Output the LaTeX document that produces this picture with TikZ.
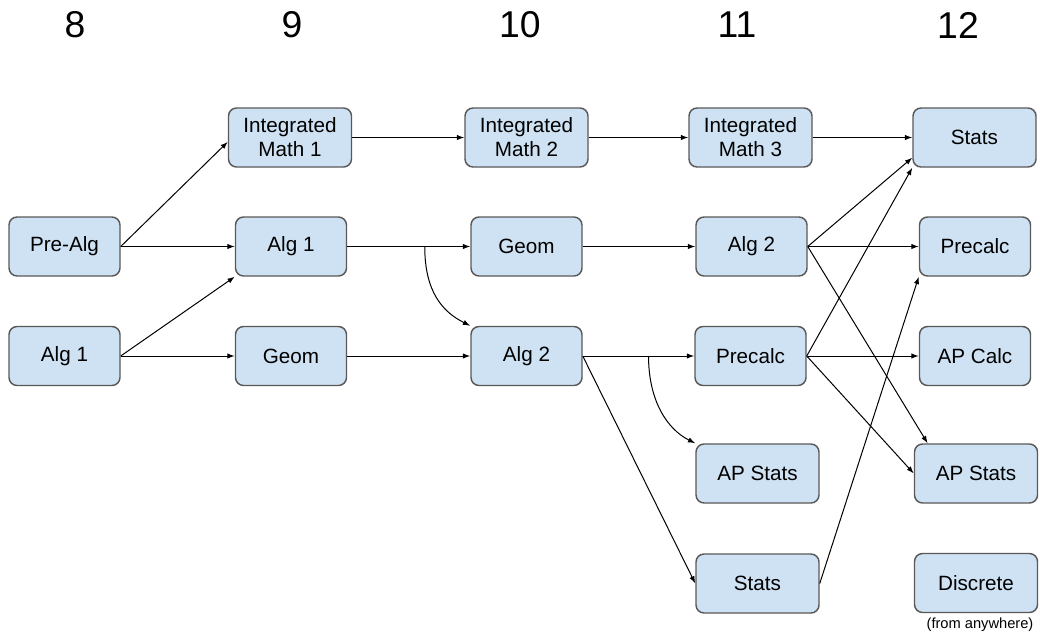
\documentclass[tikz,border=0pt]{standalone}
\usepackage{fontspec}
\setmainfont{Liberation Sans}
\usetikzlibrary{arrows.meta,calc}

\tikzset{every picture/.style={line width=0.75pt}}
\tikzset{
  course/.style={draw={rgb,255:red,89;green,89;blue,89}, fill={rgb,255:red,207;green,226;blue,243}, rounded corners=6pt, line width=1.1pt, minimum width=83.25pt, minimum height=44.25pt, inner sep=0.75pt, align=center, font=\fontsize{15.5}{18}\selectfont},
  wide/.style={minimum width=92.25pt},
  grade/.style={inner sep=0.75pt, font=\fontsize{28}{34}\selectfont},
  flow/.style={-{Latex[length=5.5pt,width=4pt]}, line width=0.75pt},
}

\begin{document}
\begin{tikzpicture}[x=0.75pt,y=0.75pt,yscale=-1,xscale=1]
\useasboundingbox (0,0) rectangle (1040,639);

% Text Node
\node (g8) [grade] at (75,25) {8};
% Text Node
\node (g9) [grade] at (292,25) {9};
% Text Node
\node (g10) [grade] at (520,25) {10};
% Text Node
\node (g11) [grade] at (737,25) {11};
% Text Node
\node (g12) [grade] at (958,25) {12};

%Shape: Rounded Rect -- grade 8
\node (prealg-8) [course] at (64.5,246.5) {Pre-Alg};
\node (alg1-8) [course] at (64.5,356) {Alg 1};
%Shape: Rounded Rect -- grade 9
\node (im1-9) [course, wide] at (290,137.5) {Integrated\\Math 1};
\node (alg1-9) [course] at (291,246.5) {Alg 1};
\node (geom-9) [course] at (291,356) {Geom};
%Shape: Rounded Rect -- grade 10
\node (im2-10) [course, wide] at (526.5,137.5) {Integrated\\Math 2};
\node (geom-10) [course] at (526.5,246.5) {Geom};
\node (alg2-10) [course] at (526.5,356) {Alg 2};
%Shape: Rounded Rect -- grade 11
\node (im3-11) [course, wide] at (750.5,137.5) {Integrated\\Math 3};
\node (alg2-11) [course] at (751.5,246.5) {Alg 2};
\node (precalc-11) [course] at (750.5,356) {Precalc};
\node (apstats-11) [course, wide] at (757.5,473.5) {AP Stats};
\node (stats-11) [course, wide] at (757.5,583.5) {Stats};
%Shape: Rounded Rect -- grade 12
\node (stats-12) [course, wide] at (974.5,137.5) {Stats};
\node (precalc-12) [course] at (975,246.5) {Precalc};
\node (apcalc-12) [course] at (975,356) {AP Calc};
\node (apstats-12) [course, wide] at (976,473.5) {AP Stats};
\node (discrete-12) [course, wide] at (976,583) {Discrete};

% Text Node
\node (anywhere) [inner sep=0.75pt, font=\fontsize{11}{13}\selectfont] at (980,625) {(from anywhere)};

%Straight Lines
\draw [flow] (prealg-8.east) -- (im1-9.184);
\draw [flow] (prealg-8.east) -- (alg1-9.west);
\draw [flow] (alg1-8.east) -- (alg1-9.south west);
\draw [flow] (alg1-8.east) -- (geom-9.west);
\draw [flow] (im1-9.east) -- (im2-10.west);
\draw [flow] (alg1-9.east) -- (geom-10.west);
\draw [flow] (geom-9.east) -- (alg2-10.west);
\draw [flow] (im2-10.east) -- (im3-11.west);
\draw [flow] (geom-10.east) -- (alg2-11.west);
\draw [flow] (alg2-10.east) -- (precalc-11.west);
\draw [flow] (alg2-10.east) -- (stats-11.west);
\draw [flow] (im3-11.east) -- (stats-12.west);
\draw [flow] (alg2-11.east) -- (stats-12.198);
\draw [flow] (alg2-11.east) -- (precalc-12.west);
\draw [flow] (alg2-11.east) -- (apstats-12.148);
\draw [flow] (precalc-11.east) -- (stats-12.south west);
\draw [flow] (precalc-11.east) -- (apcalc-12.west);
\draw [flow] (precalc-11.east) -- (apstats-12.west);
\draw [flow] (stats-11.east) -- (precalc-12.south west);

%Curve Lines
\coordinate (fork1) at ($(alg1-9.east)!0.63!(geom-10.west)$);
\draw [flow] (fork1) .. controls +(0,45) and +(-28,-14) .. (alg2-10.north west);
\coordinate (fork2) at ($(alg2-10.east)!0.59!(precalc-11.west)$);
\draw [flow] (fork2) .. controls +(0,45) and +(-28,-14) .. (apstats-11.north west);

\end{tikzpicture}
\end{document}
